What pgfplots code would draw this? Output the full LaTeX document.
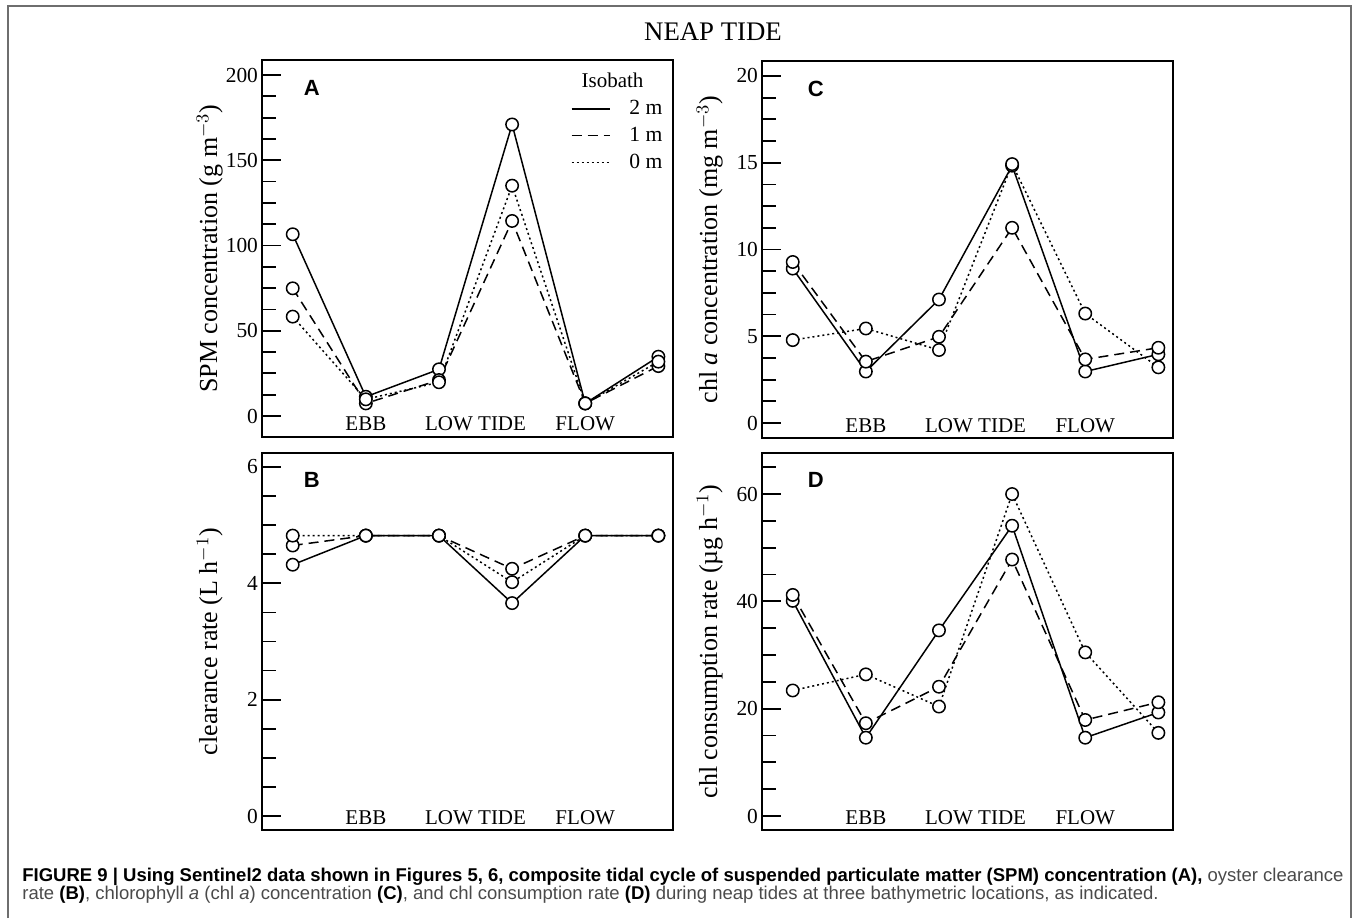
\documentclass[border=0pt]{standalone}
\usepackage{fontspec}
\setmainfont{Liberation Serif}
\newfontfamily\sans{Liberation Sans}
\usepackage{pgfplots}
\pgfplotsset{compat=1.18}
\definecolor{capgray}{HTML}{4A4A4A}
\definecolor{framegray}{HTML}{6E6E6E}

\pgfplotsset{
  tide/.style={
    scale only axis, width=205.5pt, height=188.5pt,
    xmin=-0.42, xmax=5.2,
    clip=false,
    axis line style={line width=0.9pt},
    tick align=inside,
    major tick length=9.5pt, minor tick length=7pt,
    every tick/.style={black, line width=0.9pt},
    ytick pos=left,
    xtick={1,2.5,4}, xticklabels={EBB, LOW TIDE, FLOW},
    xtick style={draw=none},
    xticklabel style={anchor=base, yshift=3pt, font=\fontsize{10.5}{12}\selectfont},
    yticklabel style={font=\fontsize{10.7}{12}\selectfont, xshift=1.5pt},
    /pgf/number format/assume math mode=true,
    ylabel style={font=\fontsize{13}{15}\selectfont,
      at={(axis description cs:-0.127,0.5)}, anchor=center},
    every axis plot/.append style={black, line width=0.75pt, mark=*, mark size=3.1pt,
      mark options={solid, fill=white, draw=black, line width=0.75pt}},
  },
  two/.style={solid},
  one/.style={dash pattern=on 5pt off 3pt},
  zero/.style={dash pattern=on 1pt off 1.5pt},
}
\tikzset{letter/.style={font=\sans\bfseries\fontsize{11}{12}\selectfont}}

\begin{document}
\begin{tikzpicture}
\useasboundingbox (0,0) rectangle (678.5pt,459pt);
\draw[framegray, line width=0.8pt] (4pt,0pt) -- (4pt,456pt) -- (675.5pt,456pt) -- (675.5pt,0pt);

\node[font=\fontsize{13.4}{15}\selectfont, anchor=base] at (356.5pt,438.5pt) {NEAP TIDE};

% A: SPM
\begin{axis}[tide, at={(131pt,240.5pt)}, anchor=south west,
  ymin=-12.3, ymax=208.8, ytick={0,50,...,200}, minor y tick num=3,
  ylabel={SPM concentration (g m$^{-3}$)},
  legend style={draw=none, fill=none, at={(rel axis cs:0.975,0.905)}, anchor=north east,
    font=\fontsize{10.8}{12}\selectfont, row sep=0.8pt, inner sep=0pt,
    nodes={inner xsep=0pt},
    /tikz/every odd column/.append style={column sep=9.5pt}},
  legend cell align=right,
  legend image code/.code={\draw[#1] (0pt,0pt) -- (19pt,0pt);},
]
\addplot[two] coordinates {(0,106.6) (1,11.3) (2,27.4) (3,171) (4,7.4) (5,34.8)};
\addplot[one] coordinates {(0,74.9) (1,7.4) (2,21.1) (3,114.4) (4,7.4) (5,29.3)};
\addplot[zero] coordinates {(0,58.3) (1,9.8) (2,19.8) (3,135.1) (4,7.4) (5,31.9)};
\addlegendentry{2 m}
\addlegendentry{1 m}
\addlegendentry{0 m}
\node[font=\fontsize{10.5}{12}\selectfont] at (rel axis cs:0.853,0.947) {Isobath};
\node[letter] at (rel axis cs:0.121,0.925) {A};
\end{axis}

% C: chl a
\begin{axis}[tide, at={(381pt,240pt)}, anchor=south west,
  ymin=-0.86, ymax=20.86, ytick={0,5,...,20}, minor y tick num=3,
  ylabel={chl \textit{a} concentration (mg m$^{-3}$)},
]
\addplot[two] coordinates {(0,8.9) (1,2.97) (2,7.12) (3,14.83) (4,2.97) (5,3.96)};
\addplot[one] coordinates {(0,9.28) (1,3.54) (2,4.97) (3,11.25) (4,3.67) (5,4.34)};
\addplot[zero] coordinates {(0,4.78) (1,5.45) (2,4.21) (3,14.92) (4,6.31) (5,3.21)};
\node[letter] at (rel axis cs:0.131,0.925) {C};
\end{axis}

% B: clearance
\begin{axis}[tide, at={(131pt,44pt)}, anchor=south west,
  ymin=-0.24, ymax=6.24, ytick={0,2,4,6}, minor y tick num=3,
  ylabel={clearance rate (L h$^{-1}$)},
]
\addplot[two] coordinates {(0,4.32) (1,4.82) (2,4.82) (3,3.66) (4,4.82) (5,4.82)};
\addplot[one] coordinates {(0,4.65) (1,4.82) (2,4.82) (3,4.25) (4,4.82) (5,4.82)};
\addplot[zero] coordinates {(0,4.82) (1,4.82) (2,4.82) (3,4.02) (4,4.82) (5,4.82)};
\node[letter] at (rel axis cs:0.121,0.928) {B};
\end{axis}

% D: consumption
\begin{axis}[tide, at={(381pt,44pt)}, anchor=south west,
  ymin=-2.6, ymax=67.65, ytick={0,20,40,60},
  minor ytick={5,10,15,25,30,35,45,50,55,65},
  ylabel={chl consumption rate (µg h$^{-1}$)},
]
\addplot[two] coordinates {(0,40.1) (1,14.6) (2,34.6) (3,54.1) (4,14.6) (5,19.3)};
\addplot[one] coordinates {(0,41.2) (1,17.3) (2,24.1) (3,47.8) (4,17.9) (5,21.2)};
\addplot[zero] coordinates {(0,23.4) (1,26.4) (2,20.4) (3,60.0) (4,30.5) (5,15.5)};
\node[letter] at (rel axis cs:0.131,0.928) {D};
\end{axis}

\node[anchor=base west, inner sep=0pt, font=\sans\fontsize{9.25}{9}\selectfont, text=capgray]
  at (11pt,18.5pt) {\textbf{\color{black}FIGURE 9 | Using Sentinel2 data shown in Figures 5, 6, composite tidal cycle of suspended particulate matter (SPM) concentration (A),} oyster clearance};
\node[anchor=base west, inner sep=0pt, font=\sans\fontsize{9.25}{9}\selectfont, text=capgray]
  at (11pt,9.5pt) {rate \textbf{\color{black}(B)}, chlorophyll \textit{a} (chl \textit{a}) concentration \textbf{\color{black}(C)}, and chl consumption rate \textbf{\color{black}(D)} during neap tides at three bathymetric locations, as indicated.};
\end{tikzpicture}
\end{document}
